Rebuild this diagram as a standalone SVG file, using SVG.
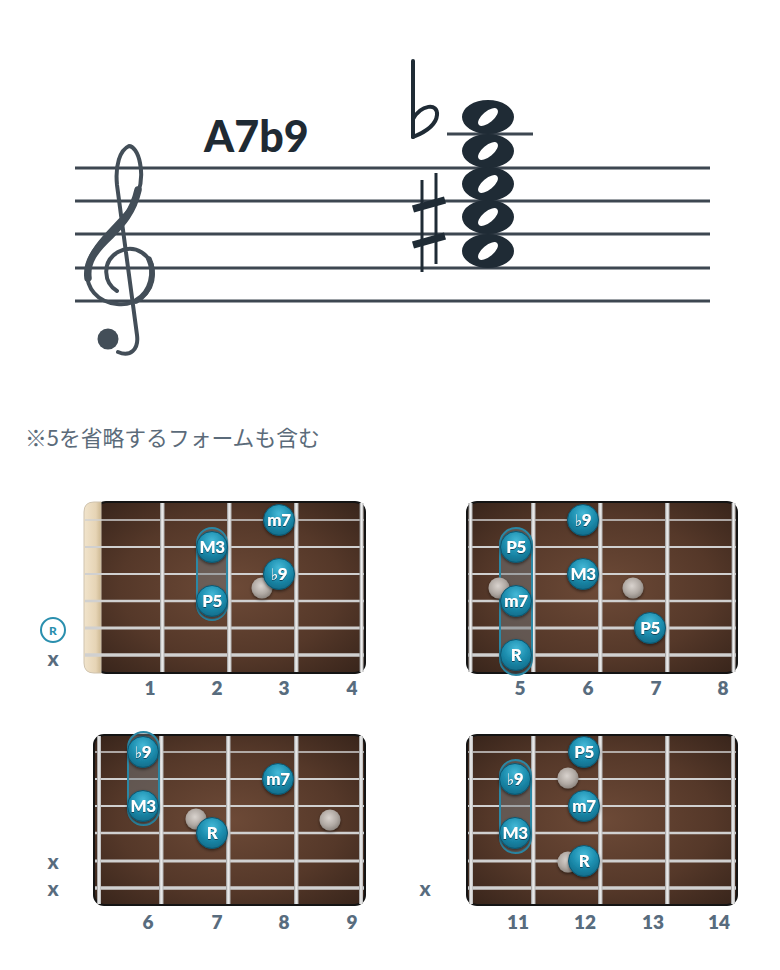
<svg xmlns="http://www.w3.org/2000/svg" width="780" height="970" viewBox="0 0 780 970">
<style>
.staff{stroke:#3d4751;stroke-width:3}
.ink{fill:#1f2b35}
.wood{fill:url(#wood);stroke:#141414;stroke-width:2}
.fret{fill:url(#fretg)}
.s{stroke:#d0d0d0}
.s1{stroke-width:1.6}.s2{stroke-width:1.9}.s3{stroke-width:2.2}.s4{stroke-width:2.7}.s5{stroke-width:3.1}.s6{stroke-width:3.6}
.nc{fill:url(#noteg);stroke:#0c5670;stroke-width:1;filter:url(#sh)}
.lbl{font-family:Lato,"Open Sans",sans-serif;font-weight:900;font-size:17px;letter-spacing:-0.4px;fill:#fff;text-anchor:middle;filter:url(#ts)}
.fl{font-family:"DejaVu Sans",sans-serif;font-weight:normal;font-size:16px}
.dot{fill:url(#dotg);filter:url(#sh)}
.cap{fill:#6f767a;fill-opacity:.5;stroke:#2b88a5;stroke-width:2}
.fn{font-family:Lato,"Open Sans",sans-serif;font-weight:800;font-size:19px;fill:#586c7e;text-anchor:middle}
.mx{font-family:Lato,"Open Sans",sans-serif;font-weight:900;font-size:21px;fill:#586c7e;text-anchor:middle}
</style>
<defs>
<radialGradient id="wood" cx=".5" cy=".5" r=".75">
<stop offset="0" stop-color="#6d4a37"/><stop offset=".55" stop-color="#553829"/><stop offset=".9" stop-color="#3a261c"/><stop offset="1" stop-color="#2a1a12"/>
</radialGradient>
<linearGradient id="fretg" x1="0" y1="0" x2="1" y2="0">
<stop offset="0" stop-color="#8e8e8e"/><stop offset=".45" stop-color="#f4f4f4"/><stop offset="1" stop-color="#b5b5b5"/>
</linearGradient>
<linearGradient id="nutg" x1="0" y1="0" x2="1" y2="0">
<stop offset="0" stop-color="#f1e4cc"/><stop offset=".7" stop-color="#e6d4b5"/><stop offset="1" stop-color="#cdb892"/>
</linearGradient>
<radialGradient id="noteg" cx=".5" cy=".3" r=".75">
<stop offset="0" stop-color="#45b9d7"/><stop offset=".5" stop-color="#1d8eaf"/><stop offset="1" stop-color="#0f6885"/>
</radialGradient>
<radialGradient id="dotg" cx=".45" cy=".4" r=".65">
<stop offset="0" stop-color="#d9d3ce"/><stop offset=".6" stop-color="#b0a9a3"/><stop offset="1" stop-color="#857e78"/>
</radialGradient>
<filter id="sh" x="-30%" y="-30%" width="160%" height="160%">
<feDropShadow dx="0" dy="1.5" stdDeviation="1.5" flood-color="#000" flood-opacity=".5"/>
</filter>
<filter id="ts" x="-20%" y="-20%" width="140%" height="140%">
<feDropShadow dx="0" dy="1" stdDeviation=".6" flood-color="#083447" flood-opacity=".8"/>
</filter>
<path id="wn" fill-rule="evenodd" d="M-26,0 A26,17 0 1 0 26,0 A26,17 0 1 0 -26,0 Z M-9.2,7.7 A12,5.5 -40 1 0 9.2,-7.7 A12,5.5 -40 1 0 -9.2,7.7 Z"/>
</defs>
<rect width="780" height="970" fill="#fff"/>

<g id="staff">
<line class="staff" x1="75" y1="168" x2="710" y2="168"/>
<line class="staff" x1="75" y1="201" x2="710" y2="201"/>
<line class="staff" x1="75" y1="234" x2="710" y2="234"/>
<line class="staff" x1="75" y1="268" x2="710" y2="268"/>
<line class="staff" x1="75" y1="301" x2="710" y2="301"/>
</g>

<g id="clef" fill="none" stroke="#434e58" stroke-linecap="round" stroke-linejoin="round">
<path stroke-width="4" d="M117 291 C104 283,101 262,118 252 C135 243,153 255,153 274 C153 294,135 306,117 304 C97 302,86 288,87 270 C89 247,115 228,129 210 C140 195,143 178,140 163 C138 152,133 146,129 146 C120 150,115 165,117 185 L137 335 C139 350,130 357,118 352"/>
<path stroke-width="7.5" d="M88 278 C86 262,95 250,110 236 C122 224,133 212,138 190"/>
<path stroke-width="5.5" d="M149 259 C155 272,152 292,136 301"/>
<circle cx="108" cy="339" r="10.5" fill="#434e58" stroke="none"/>
</g>

<text id="title" x="204" y="152" font-family="Lato,'Open Sans',sans-serif" font-weight="900" font-size="43" fill="#1f2a33">A7b9</text>

<g id="chord">
<line x1="447" y1="134" x2="533" y2="134" stroke="#3d4751" stroke-width="3"/>
<g class="ink">
<use href="#wn" x="488" y="117"/>
<use href="#wn" x="488" y="151"/>
<use href="#wn" x="488" y="184"/>
<use href="#wn" x="488" y="217"/>
<use href="#wn" x="488" y="251"/>
</g>
<g id="flat" fill="none" stroke="#1f2b35" stroke-linecap="round">
<line x1="413" y1="61" x2="413" y2="137" stroke-width="4"/>
<path stroke-width="4" d="M413 119 C421 105,438 102,437 115 C436 126,423 133,413 137"/>
</g>
<g id="sharp" stroke="#1f2b35">
<line x1="422" y1="180" x2="422" y2="272" stroke-width="3"/>
<line x1="436" y1="173" x2="436" y2="264" stroke-width="3"/>
<line x1="413" y1="209" x2="445" y2="200" stroke-width="7.5"/>
<line x1="413" y1="245" x2="445" y2="236" stroke-width="7.5"/>
</g>
</g>

<text id="note" x="25" y="446" font-family="'Noto Sans CJK JP','Noto Sans',sans-serif" font-size="21.8" fill="#5b6b7a">※5を省略するフォームも含む</text>

<!-- Board 1 -->
<g id="board1" transform="translate(0,502)">
<rect class="wood" x="96" y="0" width="269" height="171" rx="10"/>
<path d="M101 0 L94 0 Q84 0 84 10 L84 161 Q84 171 94 171 L101 171 Z" fill="url(#nutg)" stroke="#cfc3ae" stroke-width="1"/>
<g class="s">
<line class="s1" x1="85" y1="18" x2="364" y2="18"/>
<line class="s2" x1="85" y1="45" x2="364" y2="45"/>
<line class="s3" x1="85" y1="72" x2="364" y2="72"/>
<line class="s4" x1="85" y1="99" x2="364" y2="99"/>
<line class="s5" x1="85" y1="126" x2="364" y2="126"/>
<line class="s6" x1="85" y1="153" x2="364" y2="153"/>
</g>
<rect class="fret" x="160" y="1" width="4.5" height="169"/>
<rect class="fret" x="227" y="1" width="4.5" height="169"/>
<rect class="fret" x="294" y="1" width="4.5" height="169"/>
<rect class="fret" x="359.5" y="1" width="4" height="169"/>
<rect class="cap" x="197" y="26" width="30" height="92" rx="15"/>
<circle class="dot" cx="262" cy="86" r="10.5"/>
<g class="note"><circle class="nc" cx="279" cy="18" r="15.5"/><text class="lbl" x="279" y="24">m7</text></g>
<g class="note"><circle class="nc" cx="212" cy="45" r="15.5"/><text class="lbl" x="212" y="51">M3</text></g>
<g class="note"><circle class="nc" cx="279" cy="72" r="15.5"/><text class="lbl" x="279" y="78"><tspan class="fl">♭</tspan>9</text></g>
<g class="note"><circle class="nc" cx="212" cy="99" r="15.5"/><text class="lbl" x="212" y="105">P5</text></g>
<circle cx="53" cy="128" r="12" fill="#fff" stroke="#2a8fae" stroke-width="2"/>
<text x="53" y="132.5" font-family="Lato,'Open Sans',sans-serif" font-weight="900" font-size="12" fill="#2a8fae" text-anchor="middle">R</text>
<text class="mx" x="53" y="164">x</text>
<text class="fn" x="150" y="193">1</text>
<text class="fn" x="217" y="193">2</text>
<text class="fn" x="284" y="193">3</text>
<text class="fn" x="352" y="193">4</text>
</g>

<!-- Board 2 -->
<g id="board2" transform="translate(0,502)">
<rect class="wood" x="467" y="0" width="270" height="171" rx="10"/>
<g class="s">
<line class="s1" x1="468" y1="18" x2="736" y2="18"/>
<line class="s2" x1="468" y1="45" x2="736" y2="45"/>
<line class="s3" x1="468" y1="72" x2="736" y2="72"/>
<line class="s4" x1="468" y1="99" x2="736" y2="99"/>
<line class="s5" x1="468" y1="126" x2="736" y2="126"/>
<line class="s6" x1="468" y1="153" x2="736" y2="153"/>
</g>
<rect class="fret" x="468.5" y="1" width="4" height="169"/>
<rect class="fret" x="531" y="1" width="4.5" height="169"/>
<rect class="fret" x="598" y="1" width="4.5" height="169"/>
<rect class="fret" x="665" y="1" width="4.5" height="169"/>
<rect class="fret" x="731.5" y="1" width="4" height="169"/>
<rect class="cap" x="500" y="26" width="32" height="147" rx="16"/>
<circle class="dot" cx="499" cy="86" r="10.5"/>
<circle class="dot" cx="633" cy="86" r="10.5"/>
<g class="note"><circle class="nc" cx="583" cy="18" r="15.5"/><text class="lbl" x="583" y="24"><tspan class="fl">♭</tspan>9</text></g>
<g class="note"><circle class="nc" cx="516" cy="45" r="15.5"/><text class="lbl" x="516" y="51">P5</text></g>
<g class="note"><circle class="nc" cx="583" cy="72" r="15.5"/><text class="lbl" x="583" y="78">M3</text></g>
<g class="note"><circle class="nc" cx="516" cy="99" r="15.5"/><text class="lbl" x="516" y="105">m7</text></g>
<g class="note"><circle class="nc" cx="650" cy="126" r="15.5"/><text class="lbl" x="650" y="132">P5</text></g>
<g class="note"><circle class="nc" cx="516" cy="153" r="15.5"/><text class="lbl" x="516" y="159">R</text></g>
<text class="fn" x="520" y="193">5</text>
<text class="fn" x="588" y="193">6</text>
<text class="fn" x="656" y="193">7</text>
<text class="fn" x="723" y="193">8</text>
</g>

<!-- Board 3 -->
<g id="board3" transform="translate(0,735)">
<rect class="wood" x="94" y="0" width="271" height="170" rx="10"/>
<g class="s">
<line class="s1" x1="95" y1="17" x2="364" y2="17"/>
<line class="s2" x1="95" y1="44" x2="364" y2="44"/>
<line class="s3" x1="95" y1="71" x2="364" y2="71"/>
<line class="s4" x1="95" y1="98" x2="364" y2="98"/>
<line class="s5" x1="95" y1="126" x2="364" y2="126"/>
<line class="s6" x1="95" y1="153" x2="364" y2="153"/>
</g>
<rect class="fret" x="97" y="1" width="4" height="168"/>
<rect class="fret" x="159" y="1" width="4.5" height="168"/>
<rect class="fret" x="226" y="1" width="4.5" height="168"/>
<rect class="fret" x="294" y="1" width="4.5" height="168"/>
<rect class="fret" x="359" y="1" width="4" height="168"/>
<rect class="cap" x="128" y="-3" width="31" height="93" rx="15.5"/>
<circle class="dot" cx="196" cy="84" r="10.5"/>
<circle class="dot" cx="330" cy="85" r="10.5"/>
<g class="note"><circle class="nc" cx="143" cy="17" r="15.5"/><text class="lbl" x="143" y="23"><tspan class="fl">♭</tspan>9</text></g>
<g class="note"><circle class="nc" cx="278" cy="44" r="15.5"/><text class="lbl" x="278" y="50">m7</text></g>
<g class="note"><circle class="nc" cx="143" cy="71" r="15.5"/><text class="lbl" x="143" y="77">M3</text></g>
<g class="note"><circle class="nc" cx="212" cy="98" r="15.5"/><text class="lbl" x="212" y="104">R</text></g>
<text class="mx" x="53" y="134">x</text>
<text class="mx" x="53" y="161">x</text>
<text class="fn" x="148" y="194">6</text>
<text class="fn" x="217" y="194">7</text>
<text class="fn" x="284" y="194">8</text>
<text class="fn" x="352" y="194">9</text>
</g>

<!-- Board 4 -->
<g id="board4" transform="translate(0,735)">
<rect class="wood" x="467" y="0" width="270" height="170" rx="10"/>
<g class="s">
<line class="s1" x1="468" y1="17" x2="736" y2="17"/>
<line class="s2" x1="468" y1="44" x2="736" y2="44"/>
<line class="s3" x1="468" y1="71" x2="736" y2="71"/>
<line class="s4" x1="468" y1="98" x2="736" y2="98"/>
<line class="s5" x1="468" y1="126" x2="736" y2="126"/>
<line class="s6" x1="468" y1="153" x2="736" y2="153"/>
</g>
<rect class="fret" x="469" y="1" width="4" height="168"/>
<rect class="fret" x="531" y="1" width="4.5" height="168"/>
<rect class="fret" x="598" y="1" width="4.5" height="168"/>
<rect class="fret" x="665" y="1" width="4.5" height="168"/>
<rect class="fret" x="731" y="1" width="4" height="168"/>
<rect class="cap" x="500" y="25" width="31" height="93" rx="15.5"/>
<circle class="dot" cx="568" cy="43" r="10.5"/>
<circle class="dot" cx="568" cy="127" r="10.5"/>
<g class="note"><circle class="nc" cx="584" cy="17" r="15.5"/><text class="lbl" x="584" y="23">P5</text></g>
<g class="note"><circle class="nc" cx="515" cy="44" r="15.5"/><text class="lbl" x="515" y="50"><tspan class="fl">♭</tspan>9</text></g>
<g class="note"><circle class="nc" cx="584" cy="71" r="15.5"/><text class="lbl" x="584" y="77">m7</text></g>
<g class="note"><circle class="nc" cx="515" cy="98" r="15.5"/><text class="lbl" x="515" y="104">M3</text></g>
<g class="note"><circle class="nc" cx="584" cy="126" r="15.5"/><text class="lbl" x="584" y="132">R</text></g>
<text class="mx" x="425" y="161">x</text>
<text class="fn" x="518" y="194">11</text>
<text class="fn" x="585" y="194">12</text>
<text class="fn" x="653" y="194">13</text>
<text class="fn" x="719" y="194">14</text>
</g>

<g id="connectors"/>
</svg>
